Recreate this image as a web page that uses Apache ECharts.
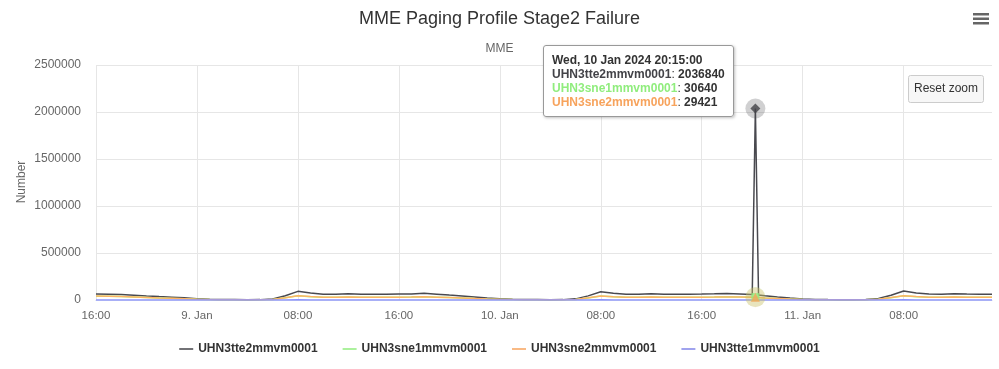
<!DOCTYPE html>
<html>
<head>
<meta charset="utf-8">
<script src="https://cdn.jsdelivr.net/npm/echarts@6/dist/echarts.min.js"></script>
<style>
html,body{margin:0;padding:0;background:#fff;}
#chart{width:999px;height:369px;}
</style>
</head>
<body>
<div id="chart"></div>
<script>
// ---- data ----
const times = [
  '2024-01-08T16:00','2024-01-08T17:00','2024-01-08T18:00','2024-01-08T19:00','2024-01-08T20:00','2024-01-08T21:00','2024-01-08T22:00','2024-01-08T23:00',
  '2024-01-09T00:00','2024-01-09T01:00','2024-01-09T02:00','2024-01-09T03:00','2024-01-09T04:00','2024-01-09T05:00','2024-01-09T06:00','2024-01-09T07:00',
  '2024-01-09T08:00','2024-01-09T09:00','2024-01-09T10:00','2024-01-09T11:00','2024-01-09T12:00','2024-01-09T13:00','2024-01-09T14:00','2024-01-09T15:00',
  '2024-01-09T16:00','2024-01-09T17:00','2024-01-09T18:00','2024-01-09T19:00','2024-01-09T20:00','2024-01-09T21:00','2024-01-09T22:00','2024-01-09T23:00',
  '2024-01-10T00:00','2024-01-10T01:00','2024-01-10T02:00','2024-01-10T03:00','2024-01-10T04:00','2024-01-10T05:00','2024-01-10T06:00','2024-01-10T07:00',
  '2024-01-10T08:00','2024-01-10T09:00','2024-01-10T10:00','2024-01-10T11:00','2024-01-10T12:00','2024-01-10T13:00','2024-01-10T14:00','2024-01-10T15:00',
  '2024-01-10T16:00','2024-01-10T17:00','2024-01-10T18:00','2024-01-10T19:00','2024-01-10T20:00','2024-01-10T20:15','2024-01-10T20:30','2024-01-10T21:00',
  '2024-01-10T22:00','2024-01-10T23:00',
  '2024-01-11T00:00','2024-01-11T01:00','2024-01-11T02:00','2024-01-11T03:00','2024-01-11T04:00','2024-01-11T05:00','2024-01-11T06:00','2024-01-11T07:00',
  '2024-01-11T08:00','2024-01-11T09:00','2024-01-11T10:00','2024-01-11T11:00','2024-01-11T12:00','2024-01-11T13:00','2024-01-11T14:00','2024-01-11T15:00'
];
const tte2 = [
  64000,62000,58000,51000,43000,36000,30000,23000,
  13000,8000,5000,4000,3000,4000,11000,45000,
  92000,74000,62000,60000,66000,61000,60000,61000,
  63000,65000,72000,62000,52000,43000,33000,22000,
  12000,7000,5000,4000,3000,4000,12000,44000,
  88000,71000,62000,60000,66000,61000,60000,62000,
  63000,66000,70000,64000,58000,2036840,52000,45000,
  32000,20000,
  10000,6000,4000,3000,3000,5000,15000,50000,
  95000,75000,63000,61000,66000,63000,62000,62000
];
const sne1 = [
  40000,39000,36000,31000,26000,21000,17000,13000,
  7500,4500,3000,2000,1800,2300,5500,23000,
  44000,35000,30000,29500,31500,29500,29000,29500,
  30500,31500,34500,30500,26500,21000,15500,10500,
  6500,4000,2800,2000,1800,2400,6000,22500,
  42000,34500,30500,29500,31500,29500,29500,30500,
  30500,31500,33500,31500,29500,30640,27500,22500,
  15500,9500,
  5500,3500,2500,1900,1900,3000,7500,25000,
  45000,35500,30500,29500,31500,30500,30500,30500
];
const sne2 = [
  42000,40000,37000,32000,27000,22000,18000,14000,
  8000,5000,3000,2000,2000,2500,6000,24000,
  45000,36000,30000,29000,31000,29000,29000,29000,
  30000,31000,34000,30000,26000,21000,16000,11000,
  7000,4000,3000,2000,2000,2500,6000,23000,
  43000,35000,30000,29000,31000,29000,29000,30000,
  30000,31000,33000,31000,29000,29421,27000,22000,
  16000,10000,
  6000,3500,2500,2000,2000,3000,8000,26000,
  46000,36000,30000,29000,31000,30000,30000,30000
];
const tte1 = [
  1200,1200,1100,1000,900,800,700,600,
  500,400,300,300,300,300,400,800,
  1500,1300,1200,1200,1200,1200,1200,1200,
  1200,1200,1300,1200,1100,1000,800,600,
  500,400,300,300,300,300,400,800,
  1500,1300,1200,1200,1200,1200,1200,1200,
  1200,1200,1300,1200,1100,null,1100,1000,
  800,600,
  500,400,300,300,300,300,400,900,
  1600,1300,1200,1200,1200,1200,1200,1200
];
const seriesNames = ['UHN3tte2mmvm0001','UHN3sne1mmvm0001','UHN3sne2mmvm0001','UHN3tte1mmvm0001'];
const seriesColors = ['#434348','#90ed7d','#f7a35c','#8085e9'];
const yTicks = [0,500000,1000000,1500000,2000000,2500000];
const xStart = '2024-01-08T16:00';
const xEnd = '2024-01-11T15:00';
const hoverTime = '2024-01-10T20:15';
const titleText = 'MME Paging Profile Stage2 Failure';
const subtitleText = 'MME';
const yAxisTitle = 'Number';

// ---- build ----
const toMs = s => Date.parse(s + ':00Z');
const xs = times.map(toMs);
const allValues = [tte2, sne1, sne2, tte1];
const hoverIdx = times.indexOf(hoverTime);
const hourMs = 3600000;
const months = ['Jan','Feb','Mar','Apr','May','Jun','Jul','Aug','Sep','Oct','Nov','Dec'];
const days = ['Sun','Mon','Tue','Wed','Thu','Fri','Sat'];
const pad = n => String(n).padStart(2,'0');
const FONT = '"Liberation Sans", Arial, sans-serif';

const lineSeries = seriesNames.map((name, i) => ({
  name, type: 'line', showSymbol: false, symbol: 'none', connectNulls: true,
  data: xs.map((x, k) => [x, allValues[i][k]]),
  lineStyle: { color: seriesColors[i], width: 1.5 },
  itemStyle: { color: seriesColors[i] },
  z: 2 + i, animation: false
}));

const markerDefs = [
  { i: 0, symbol: 'diamond', size: 10 },
  { i: 1, symbol: 'rect', size: 8 },
  { i: 2, symbol: 'triangle', size: 9 }
];
const markerSeries = [];
markerDefs.forEach(m => {
  const pt = [xs[hoverIdx], allValues[m.i][hoverIdx]];
  markerSeries.push({
    name: seriesNames[m.i] + '_halo', type: 'scatter', silent: true, symbol: 'circle', symbolSize: 20,
    data: [pt], itemStyle: { color: seriesColors[m.i], opacity: 0.25 }, z: 10, animation: false, tooltip: {show:false}
  });
  markerSeries.push({
    name: seriesNames[m.i] + '_marker', type: 'scatter', silent: true, symbol: m.symbol, symbolSize: m.size,
    data: [pt], itemStyle: { color: seriesColors[m.i] }, z: 11, animation: false, tooltip: {show:false}
  });
});

const splitColors = [];
for (let t = toMs(xStart); t <= toMs(xEnd); t += 8 * hourMs) splitColors.push('#e6e6e6');
splitColors.push('rgba(0,0,0,0)');

const chart = echarts.init(document.getElementById('chart'), null, { renderer: 'canvas' });
const option = {
  animation: false,
  textStyle: { fontFamily: FONT },
  title: [
    { text: titleText, left: 'center', top: 5, textStyle: { fontSize: 18, fontWeight: 'normal', color: '#333', fontFamily: FONT } },
    { text: subtitleText, left: 'center', top: 38, textStyle: { fontSize: 12, fontWeight: 'normal', color: '#666', fontFamily: FONT } }
  ],
  grid: { left: 96, right: 7, top: 65, bottom: 69, containLabel: false },
  legend: {
    data: seriesNames, bottom: 9, left: 'center', icon: 'rect', itemWidth: 14, itemHeight: 1.5, itemGap: 25,
    textStyle: { fontSize: 12, fontWeight: 'bold', color: '#333', fontFamily: FONT },
    inactiveColor: '#ccc'
  },
  tooltip: {
    trigger: 'axis', alwaysShowContent: true, showContent: true, transitionDuration: 0,
    axisPointer: { type: 'none' },
    position: () => [543, 45],
    backgroundColor: 'rgba(255,255,255,0.96)', borderColor: '#999', borderWidth: 1, padding: [7, 8],
    extraCssText: 'box-shadow:1px 1px 3px rgba(0,0,0,0.25);border-radius:3px;line-height:14px;',
    textStyle: { fontSize: 12, color: '#333', fontFamily: FONT },
    formatter: params => {
      const d = new Date(xs[hoverIdx]);
      let s = '<b>' + days[d.getUTCDay()] + ', ' + d.getUTCDate() + ' ' + months[d.getUTCMonth()] + ' ' + d.getUTCFullYear() + ' ' +
        pad(d.getUTCHours()) + ':' + pad(d.getUTCMinutes()) + ':' + pad(d.getUTCSeconds()) + '</b>';
      params.forEach(p => {
        const idx = seriesNames.indexOf(p.seriesName);
        if (idx < 0) return;
        const v = allValues[idx][hoverIdx];
        if (v === null || v === undefined) return;
        s += '<br/><span style="color:' + seriesColors[idx] + ';font-weight:bold">' + p.seriesName + '</span>: <b>' + v + '</b>';
      });
      return s;
    }
  },
  xAxis: {
    type: 'value', min: toMs(xStart), max: toMs(xEnd), interval: 8 * hourMs,
    axisLine: { show: true, lineStyle: { color: '#ccd6eb' } },
    axisTick: { show: false },
    splitLine: { show: true, lineStyle: { color: splitColors, width: 1 } },
    axisLabel: {
      color: '#666', fontSize: 11.5, margin: 10, showMaxLabel: false, fontFamily: FONT,
      formatter: v => {
        const d = new Date(v);
        if (d.getUTCHours() === 0) return d.getUTCDate() + '. ' + months[d.getUTCMonth()];
        return pad(d.getUTCHours()) + ':' + pad(d.getUTCMinutes());
      }
    }
  },
  yAxis: {
    type: 'value', min: yTicks[0], max: yTicks[yTicks.length - 1], interval: yTicks[1] - yTicks[0],
    axisLine: { show: false }, axisTick: { show: false },
    splitLine: { lineStyle: { color: '#e6e6e6' } },
    axisLabel: { color: '#666', fontSize: 12, margin: 15, fontFamily: FONT, formatter: v => String(v) }
  },
  graphic: [
    { type: 'text', x: 22, y: 182, rotation: Math.PI / 2,
      style: { text: yAxisTitle, fill: '#666', font: '12px ' + FONT, align: 'center', verticalAlign: 'middle' } },
    { type: 'rect', left: 973, top: 13, shape: { width: 16, height: 2.5 }, style: { fill: '#666' } },
    { type: 'rect', left: 973, top: 17.5, shape: { width: 16, height: 2.5 }, style: { fill: '#666' } },
    { type: 'rect', left: 973, top: 22, shape: { width: 16, height: 2.5 }, style: { fill: '#666' } },
    { type: 'group', left: 908, top: 75, children: [
      { type: 'rect', shape: { x: 0, y: 0, width: 75, height: 27, r: 2 }, style: { fill: '#f7f7f7', stroke: '#cccccc', lineWidth: 1 } },
      { type: 'text', x: 37.5, y: 13.5, style: { text: 'Reset zoom', fill: '#333', font: '12px ' + FONT, align: 'center', verticalAlign: 'middle' } }
    ]}
  ],
  series: lineSeries.concat(markerSeries)
};
chart.setOption(option);
chart.dispatchAction({ type: 'showTip', seriesIndex: 0, dataIndex: hoverIdx });
</script>
</body>
</html>
